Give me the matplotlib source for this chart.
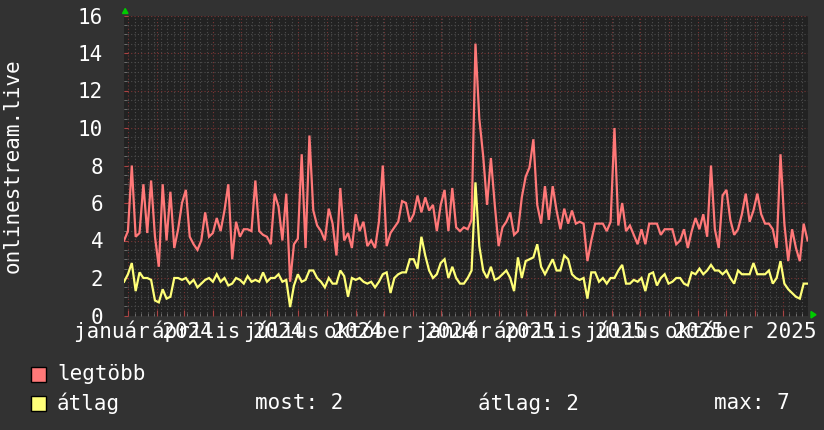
import matplotlib
matplotlib.use('Agg')
import matplotlib.pyplot as plt
import matplotlib.dates as mdates
from matplotlib.ticker import MultipleLocator, FormatStrFormatter, NullFormatter
from matplotlib.patches import Rectangle, Polygon
import pandas as pd

W, H, DPI = 824, 430, 100

# ---- data ----
legtobb = [
    4.0, 4.5, 8.0, 4.2, 4.4, 7.0, 4.4, 7.2, 4.2, 2.6,
    7.0, 4.0, 6.6, 3.6, 4.6, 6.0, 6.7, 4.2, 3.8, 3.5,
    4.0, 5.5, 4.2, 4.4, 5.2, 4.5, 5.6, 7.0, 3.0, 5.0,
    4.2, 4.6, 4.6, 4.5, 7.2, 4.5, 4.3, 4.2, 3.8, 6.5,
    5.8, 4.0, 6.5, 1.8, 3.8,
    4.1, 8.6, 3.6, 9.6, 5.6, 4.8, 4.5, 4.0, 5.7, 4.9,
    3.2, 6.8, 4.0, 4.4, 3.6, 5.4, 4.5, 5.0, 3.7, 4.0,
    3.6, 5.0, 8.0, 3.7, 4.4, 4.7, 5.0, 6.1, 6.0, 5.0,
    5.4, 6.4, 5.5, 6.3, 5.6, 5.9, 4.5, 5.9, 6.7, 4.5,
    6.8, 4.7, 4.5, 4.7,
    4.6, 5.1, 14.5, 10.5, 8.5, 5.9, 8.4, 5.9, 3.7, 4.7,
    5.0, 5.5, 4.3, 4.5, 6.3, 7.4, 7.9, 9.4, 5.9, 4.9,
    6.9, 5.1, 6.9, 5.6, 4.6, 5.7, 4.9, 5.6, 4.9, 5.0,
    4.9, 2.9, 4.0, 4.9, 4.9, 4.9, 4.5, 5.0, 10.0, 4.8,
    6.0, 4.5, 4.8, 4.3,
    3.8, 4.6, 3.8, 4.9, 4.9, 4.9, 4.3, 4.6, 4.6, 4.6,
    3.8, 4.0, 4.6, 3.6, 4.5, 5.2, 4.6, 5.4, 4.2, 8.0,
    4.6, 3.6, 6.4, 6.7, 5.1, 4.3, 4.6, 5.4, 6.5, 5.0,
    5.6, 6.5, 5.4, 4.9, 4.9, 4.6, 3.6, 8.6, 4.9, 2.9,
    4.6, 3.6, 2.9, 4.9, 4.0,
]
atlag = [
    1.8, 2.2, 2.8, 1.3, 2.3, 2.0, 2.0, 1.9, 0.8, 0.7,
    1.4, 0.9, 1.0, 2.0, 2.0, 1.9, 2.0, 1.7, 1.9, 1.5,
    1.7, 1.9, 2.0, 1.8, 2.2, 1.8, 2.0, 1.6, 1.7, 2.0,
    1.9, 1.7, 2.1, 1.8, 1.9, 1.8, 2.3, 1.8, 2.0, 2.0,
    2.2, 1.8, 1.9, 0.45, 1.6,
    2.2, 1.8, 1.9, 2.4, 2.4, 2.0, 1.8, 1.5, 2.0, 1.7,
    1.7, 2.4, 2.1, 1.0, 2.0, 1.9, 2.0, 1.8, 1.7, 1.8,
    1.5, 1.8, 2.2, 2.3, 1.2, 2.0, 2.2, 2.3, 2.3, 3.0,
    3.0, 2.5, 4.2, 3.2, 2.4, 2.0, 2.2, 2.8, 3.0, 2.0,
    2.6, 2.0, 1.7, 1.7,
    2.0, 2.4, 7.1, 3.7, 2.4, 2.0, 2.6, 1.9, 2.0, 2.2,
    2.4, 2.0, 1.3, 3.1, 2.0, 2.9, 3.0, 3.1, 3.8, 2.6,
    2.2, 2.6, 3.0, 2.4, 2.4, 3.2, 3.0, 2.2, 2.0, 1.9,
    2.0, 0.9, 2.3, 2.3, 1.8, 2.0, 1.7, 2.0, 2.0, 2.4,
    2.7, 1.7, 1.7, 1.9,
    1.8, 2.0, 1.3, 2.2, 2.3, 1.6, 2.0, 2.2, 1.7, 1.8,
    2.0, 2.0, 1.7, 1.6, 2.3, 2.2, 2.5, 2.2, 2.4, 2.7,
    2.4, 2.4, 2.2, 2.4, 2.0, 1.7, 2.4, 2.2, 2.2, 2.2,
    2.8, 2.2, 2.2, 2.2, 2.4, 1.7, 2.0, 2.9, 1.7, 1.4,
    1.2, 1.0, 0.9, 1.7, 1.7,
]
series_names = ['legtöbb', 'átlag']
stat_labels = ['most: 2', 'átlag: 2', 'max: 7']
y_title = 'onlinestream.live'
month_names = {1: 'január', 4: 'április', 7: 'július', 10: 'október'}
label_months = pd.date_range('2024-01-01', '2025-10-01', freq='QS')

dates = pd.date_range('2023-12-27 18:00', '2025-12-27 12:00', periods=len(legtobb))
x_start = pd.Timestamp('2023-12-27 16:00')
x_end = pd.Timestamp('2025-12-28 00:00')

# ---- style ----
BG_OUT = '#323232'
BG_PLOT = '#222222'
RED = '#ff7878'
YEL = '#ffff78'
FONT = 'DejaVu Sans Mono'
FS = 15
plt.rcParams['font.family'] = [FONT, 'DejaVu Sans']

fig = plt.figure(figsize=(W / DPI, H / DPI), dpi=DPI, facecolor=BG_OUT)
ax = fig.add_axes([124 / W, 1 - 315.5 / H, (808 - 124) / W, 300 / H])
ax.set_facecolor(BG_PLOT)
for s in ax.spines.values():
    s.set_visible(False)

ax.plot(dates, atlag, color=YEL, lw=1.6, zorder=3, solid_joinstyle='miter')
ax.plot(dates, legtobb, color=RED, lw=1.6, zorder=3, solid_joinstyle='miter')

ax.set_xlim(x_start, x_end)
ax.set_ylim(0, 16)

ax.xaxis.set_major_locator(mdates.MonthLocator())
ax.xaxis.set_minor_locator(mdates.WeekdayLocator(byweekday=mdates.MO))
ax.xaxis.set_major_formatter(NullFormatter())
ax.yaxis.set_major_locator(MultipleLocator(2))
ax.yaxis.set_minor_locator(MultipleLocator(0.5))
ax.yaxis.set_major_formatter(FormatStrFormatter('%d'))

ax.set_axisbelow(True)
ax.grid(which='minor', color='#4e4e4e', linestyle=(0, (1, 2)), lw=0.8)
ax.grid(which='major', color='#7a3434', linestyle=(0, (1, 2)), lw=0.8)

ax.tick_params(axis='x', which='major', direction='in', length=4, color='#aa4444', pad=0)
ax.tick_params(axis='x', which='minor', direction='in', length=2, color='#777777')
ax.tick_params(axis='y', which='major', direction='in', length=3, color='#aa4444',
               labelcolor='white', labelsize=FS, pad=15)
ax.tick_params(axis='y', which='minor', direction='in', length=2, color='#777777')
for t in ax.get_yticklabels():
    t.set_fontfamily(FONT)

# quarter labels (centered mid-month)
for d in label_months:
    ax.text(d + pd.Timedelta(days=16), -0.075, f'{month_names[d.month]} {d.year}',
            transform=ax.get_xaxis_transform(), ha='center', va='baseline',
            color='white', fontsize=FS, family=FONT, clip_on=False)

# y title
fig.text(13 / W, 1 - 166 / H, y_title, rotation=90, ha='center', va='center',
         color='white', fontsize=FS, family=FONT)

# arrows
fig.patches.append(Polygon([(122.5 / W, 1 - 13.5 / H), (128 / W, 1 - 13.5 / H), (125.2 / W, 1 - 8.5 / H)],
                           closed=True, transform=fig.transFigure, color='#00cc00', zorder=5))
fig.patches.append(Polygon([(811 / W, 1 - 311.5 / H), (811 / W, 1 - 318 / H), (816 / W, 1 - 314.7 / H)],
                           closed=True, transform=fig.transFigure, color='#00cc00', zorder=5))

# legend
for (yc, col, name) in [(374, RED, series_names[0]), (403, YEL, series_names[1])]:
    fig.patches.append(Rectangle((31 / W, 1 - (yc + 7.5) / H), 15 / W, 15 / H,
                                 transform=fig.transFigure, facecolor=col,
                                 edgecolor='black', lw=1.0))
    fig.text(57 / W, 1 - yc / H, name, ha='left', va='center', color='white',
             fontsize=FS, family=FONT)
for xp, s in zip([255, 478, 714], stat_labels):
    fig.text(xp / W, 1 - 403 / H, s, ha='left', va='center', color='white',
             fontsize=FS, family=FONT)

fig.savefig('out.png', dpi=DPI, facecolor=BG_OUT)
